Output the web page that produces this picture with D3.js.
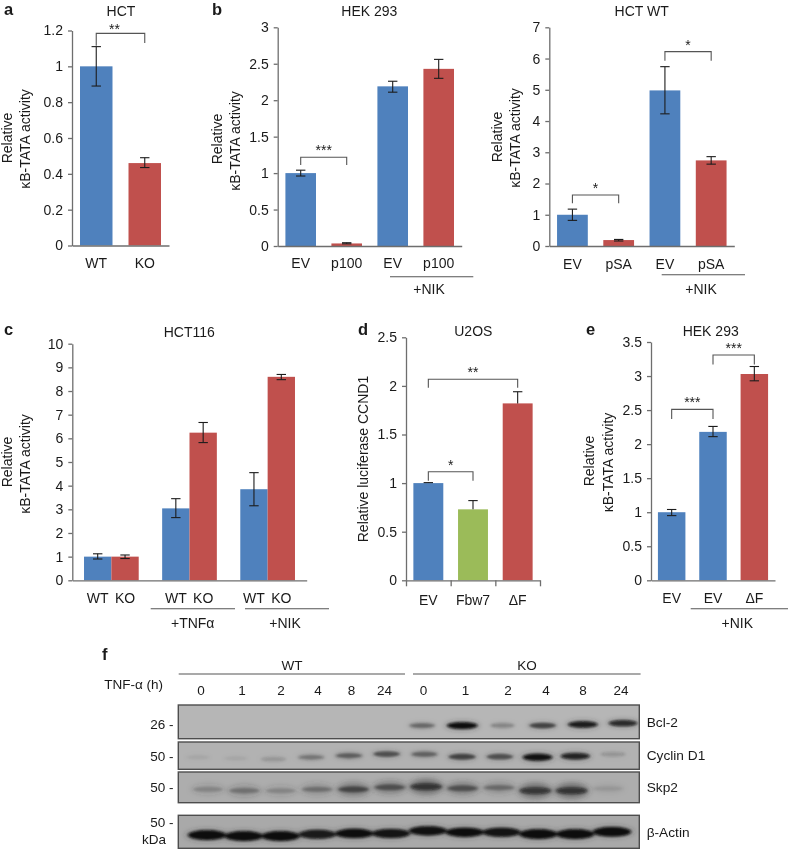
<!DOCTYPE html>
<html><head><meta charset="utf-8">
<style>
html,body{margin:0;padding:0;background:#fff;width:788px;height:849px;overflow:hidden}
svg{display:block;filter:blur(0.45px)}
text{font-family:"Liberation Sans",Arial,sans-serif;fill:#1a1a1a;font-size:14px}
.axis path,.axis line{stroke:#6e6e6e;stroke-width:1.3px;fill:none}
.axis text{font-family:"Liberation Sans",Arial,sans-serif;font-size:14px;fill:#1a1a1a}
</style>
<script src="https://d3js.org/d3.v7.min.js"></script>
</head><body>
<svg id="fig" width="788" height="849" xmlns="http://www.w3.org/2000/svg"></svg>
<script>
// ---------- data ----------
const aCats=["WT","KO"], aVals=[1,0.46], aLow=[0.89,0.435], aHigh=[1.11,0.49];
const aTicks=[0,0.2,0.4,0.6,0.8,1,1.2];
const bCats=["EV","p100","EV","p100"], bVals=[1,0.035,2.19,2.43], bLow=[0.96,0.03,2.11,2.30], bHigh=[1.04,0.045,2.26,2.56];
const bTicks=[0,0.5,1,1.5,2,2.5,3];
const b2Cats=["EV","pSA","EV","pSA"], b2Vals=[1,0.19,4.98,2.74], b2Low=[0.82,0.16,4.23,2.62], b2High=[1.18,0.21,5.74,2.86];
const b2Ticks=[0,1,2,3,4,5,6,7];
const cCats=["WT","KO","WT","KO","WT","KO"], cVals=[1,1,3.04,6.24,3.85,8.6], cLow=[0.9,0.92,2.65,5.82,3.15,8.48], cHigh=[1.12,1.07,3.45,6.67,4.55,8.7];
const cTicks=[0,1,2,3,4,5,6,7,8,9,10];
const dCats=["EV","Fbw7","\u0394F"], dVals=[1,0.73,1.82], dLow=[1,0.73,1.82], dHigh=[1.005,0.82,1.94];
const dTicks=[0,0.5,1,1.5,2,2.5];
const eCats=["EV","EV","\u0394F"], eVals=[1,2.18,3.03], eLow=[0.95,2.11,2.93], eHigh=[1.04,2.26,3.14];
const eTicks=[0,0.5,1,1.5,2,2.5,3,3.5];
// brackets: first bar, second bar, top value, left end value, right end value, stars
const aBrackets=[[0,1,1.184,1.115,1.13,"**"]];
const bBrackets=[[0,1,1.217,1.11,1.11,"***"]];
const b2Brackets=[[0,1,1.63,1.37,1.37,"*"],[2,3,6.22,5.93,5.93,"*"]];
const dBrackets=[[0,1,1.117,1.025,1.025,"*"],[0,2,2.068,1.98,1.98,"**"]];
const eBrackets=[[0,1,2.51,2.37,2.37,"***"],[1,2,3.31,3.17,3.17,"***"]];
// western blot
const laneLabels=["0","1","2","4","8","24","0","1","2","4","8","24"];
const bcl2Int=[0,0,0,0,0,0,0.36,0.95,0.22,0.55,0.85,0.75];
const bcl2Mig=[.6,.6,.6,.6,.6,.6,.61,.61,.61,.61,.58,.54];
const cycInt=[0.05,0.05,0.13,0.28,0.4,0.48,0.38,0.55,0.48,0.92,0.8,0.14];
const cycMig=[.56,.6,.63,.56,.5,.44,.45,.54,.54,.56,.52,.45];
const skpInt=[0.16,0.24,0.16,0.26,0.46,0.4,0.62,0.4,0.28,0.6,0.62,0.08];
const skpMig=[.565,.61,.61,.565,.565,.5,.48,.53,.51,.61,.61,.54];
const actInt=[1,1,1,0.85,0.95,0.9,0.92,0.95,0.9,1,1,1];
const actMig=[.6,.63,.63,.575,.55,.55,.47,.515,.515,.57,.57,.5];

// ---------- helpers ----------
const BLUE="#4f81bd",RED="#c0504d",GREEN="#9bbb59";
const svg=d3.select("#fig");
const defs=svg.append("defs");
defs.append("filter").attr("id","bandBlur").attr("x","-30%").attr("y","-100%").attr("width","160%").attr("height","300%")
  .append("feGaussianBlur").attr("stdDeviation","1.6 1.1");
defs.append("filter").attr("id","smearBlur").attr("x","-30%").attr("y","-100%").attr("width","160%").attr("height","300%")
  .append("feGaussianBlur").attr("stdDeviation","3 2.5");

function txt(x,y,s,o={}){
  const t=svg.append("text").attr("x",x).attr("y",y).attr("text-anchor",o.anchor||"middle").text(s);
  if(o.central!==false)t.attr("dominant-baseline","central");
  if(o.size)t.style("font-size",o.size+"px");
  if(o.bold)t.style("font-weight","bold");
  if(o.rot)t.attr("transform",`rotate(-90 ${x} ${y})`);
  return t;
}
function rule(x1,x2,y){svg.append("line").attr("x1",x1).attr("x2",x2).attr("y1",y).attr("y2",y).attr("stroke","#555").attr("stroke-width",1.1);}

function panel(L,cats,vals,low,high,ticks,colors,brackets){
  const y=d3.scaleLinear().domain([0,ticks[ticks.length-1]]).range([L.y0,L.y1]);
  const band=d3.scaleBand().domain(d3.range(cats.length)).range([L.x0,L.x1]).paddingInner(L.pad).paddingOuter(L.pad/2);
  const xPos=L.xPos||(i=>band(i));
  const bw=L.bw||band.bandwidth();
  const g=svg.append("g");
  g.selectAll("rect").data(vals).join("rect")
    .attr("x",(d,i)=>xPos(i)).attr("width",bw).attr("y",d=>y(d)).attr("height",d=>y(0)-y(d))
    .attr("fill",(d,i)=>colors[i]);
  svg.append("g").attr("class","axis").attr("transform",`translate(${L.x0},0)`)
    .call(d3.axisLeft(y).tickValues(ticks).tickFormat(d3.format("~g")).tickSize(4).tickSizeOuter(0).tickPadding(5));
  const xAxisScale=d3.scaleLinear().domain([0,cats.length]).range([L.x0,L.x1]);
  svg.append("g").attr("class","axis").attr("transform",`translate(0,${L.y0})`)
    .call(d3.axisBottom(xAxisScale).tickValues(L.xTicks?d3.range(cats.length+1):[]).tickFormat("").tickSize(L.xTicks?6:0).tickSizeOuter(0));
  svg.append("g").selectAll("text").data(cats).join("text")
    .attr("x",(d,i)=>xPos(i)+bw/2).attr("y",L.labelY).attr("text-anchor","middle").attr("dominant-baseline","central").text(d=>d);
  const e=svg.append("g").attr("stroke","#1c1c1c").attr("stroke-width",1.1);
  vals.forEach((v,i)=>{
    const cx=xPos(i)+bw/2, c=L.cap||4.7;
    e.append("line").attr("x1",cx).attr("x2",cx).attr("y1",y(low[i])).attr("y2",y(high[i]));
    e.append("line").attr("x1",cx-c).attr("x2",cx+c).attr("y1",y(high[i])).attr("y2",y(high[i]));
    if(low[i]<v) e.append("line").attr("x1",cx-c).attr("x2",cx+c).attr("y1",y(low[i])).attr("y2",y(low[i]));
  });
  (brackets||[]).forEach(b=>{
    const xa=xPos(b[0])+bw/2, xb=xPos(b[1])+bw/2;
    svg.append("path").attr("fill","none").attr("stroke","#555").attr("stroke-width",1.1)
      .attr("d",d3.line()([[xa,y(b[3])],[xa,y(b[2])],[xb,y(b[2])],[xb,y(b[4])]]));
    svg.append("text").attr("x",(xa+xb)/2+(L.starDx||0)).attr("y",y(b[2])-2+(L.starDy||0)).attr("text-anchor","middle").style("font-size","14px").text(b[5]);
  });
  txt(L.titleX,L.titleY,L.title);
  if(L.yl2){ txt(L.ylx1,L.yly1,"Relative",{rot:true}); txt(L.ylx2,L.yly2,"\u03baB-TATA activity",{rot:true}); }
  else txt(L.ylx1,L.yly1,L.yl1,{rot:true});
}

// ---------- panels ----------
const letter={anchor:"start",central:false,bold:true,size:16.5};
txt(4,15,"a",letter);
txt(212,15,"b",letter);
txt(4,335,"c",letter);
txt(358,335,"d",letter);
txt(586,335,"e",letter);
txt(102,660,"f",letter);

panel({x0:72,x1:169,y0:245.5,y1:30.5,pad:0.33,labelY:263,title:"HCT",titleX:121,titleY:10.5,yl2:true,ylx1:7,yly1:138,ylx2:25,yly2:139,starDx:-6,starDy:3},
  aCats,aVals,aLow,aHigh,aTicks,[BLUE,RED],aBrackets);

panel({x0:277.7,x1:461.7,y0:246,y1:27.3,pad:0.335,labelY:263,title:"HEK 293",titleX:369.3,titleY:10.5,yl2:true,ylx1:217,yly1:139,ylx2:235,yly2:141},
  bCats,bVals,bLow,bHigh,bTicks,[BLUE,RED,BLUE,RED],bBrackets);
rule(390,473.3,276.7); txt(429,289,"+NIK");

panel({x0:549.3,x1:734.3,y0:246,y1:27.3,pad:0.335,labelY:264,title:"HCT WT",titleX:641.7,titleY:10.5,yl2:true,ylx1:497,yly1:137,ylx2:515,yly2:138},
  b2Cats,b2Vals,b2Low,b2High,b2Ticks,[BLUE,RED,BLUE,RED],b2Brackets);
rule(661.7,745,274.7); txt(701,289,"+NIK");

const cGroup=d3.scaleBand().domain([0,1,2]).range([72.3,306.7]).paddingInner(0.3).paddingOuter(0.15);
const cSub=d3.scaleBand().domain([0,1]).range([0,cGroup.bandwidth()]);
panel({x0:72.3,x1:306.7,y0:580.3,y1:343.7,pad:0.3,labelY:597.7,title:"HCT116",titleX:189.3,titleY:331.7,yl2:true,ylx1:7,yly1:462,ylx2:25,yly2:464,
  xPos:i=>cGroup(Math.floor(i/2))+cSub(i%2),bw:cSub.bandwidth()},
  cCats,cVals,cLow,cHigh,cTicks,[BLUE,RED,BLUE,RED,BLUE,RED],null);
rule(150.7,235,608.7); rule(245,329,608.7);
txt(192.7,622.7,"+TNF\u03b1"); txt(285,622.7,"+NIK");

panel({x0:406,x1:540,y0:580.3,y1:337.3,pad:0.33,labelY:600,title:"U2OS",titleX:473.3,titleY:331,yl1:"Relative luciferase CCND1",ylx1:363,yly1:459,xTicks:true},
  dCats,dVals,dLow,dHigh,dTicks,[BLUE,GREEN,RED],dBrackets);

panel({x0:651,x1:775,y0:580.3,y1:342,pad:0.335,labelY:597.7,title:"HEK 293",titleX:710.7,titleY:331.3,yl2:true,ylx1:589,yly1:461,ylx2:608,yly2:462.5},
  eCats,eVals,eLow,eHigh,eTicks,[BLUE,BLUE,RED],eBrackets);
rule(690.7,788,608.7); txt(737.3,622.7,"+NIK");

// ---------- western blot ----------
const laneX=[201,242,281,318,351.5,384.5,423.5,465.5,508,546,583,621];
svg.append("g").selectAll("text").data(laneLabels).join("text")
  .attr("x",(d,i)=>laneX[i]).attr("y",690.7).attr("text-anchor","middle").attr("dominant-baseline","central").style("font-size","13.5px").text(d=>d);
rule(178.7,405,674); rule(413,640.6,674);
txt(292,665.7,"WT",{size:13.5}); txt(527,665.7,"KO",{size:13.5});
txt(133.6,684,"TNF-\u03b1 (h)",{size:13.5});

function blot(B,intensity,mig){
  const x=d3.scalePoint().domain(d3.range(12)).range([B.xa,B.xb]);
  const y=d3.scaleLinear().domain([0,1]).range([B.y0,B.y1]);
  const clip="clip"+B.name.replace(/\W/g,"");
  defs.append("clipPath").attr("id",clip).append("rect").attr("x",178.3).attr("y",B.y0).attr("width",461).attr("height",B.y1-B.y0);
  svg.append("rect").attr("x",178.3).attr("y",B.y0).attr("width",461).attr("height",B.y1-B.y0).attr("fill",B.bg);
  const g=svg.append("g").attr("clip-path",`url(#${clip})`);
  const w=d3.scaleLinear().domain([0,1]).range([B.wmin,B.wmax]);
  const h=d3.scaleLinear().domain([0,1]).range([2.2,B.hmax]);
  g.append("g").attr("filter","url(#smearBlur)").selectAll("ellipse").data(intensity).join("ellipse")
    .attr("cx",(d,i)=>x(i)).attr("cy",(d,i)=>y(mig[i])).attr("rx",d=>w(d)*1.1).attr("ry",d=>h(d)*B.smear)
    .attr("fill","#333").attr("opacity",d=>d*B.smearOp);
  g.append("g").attr("filter","url(#bandBlur)").selectAll("ellipse").data(intensity).join("ellipse")
    .attr("cx",(d,i)=>x(i)).attr("cy",(d,i)=>y(mig[i])).attr("rx",d=>w(d)).attr("ry",d=>h(d))
    .attr("fill","#0b0b0b").attr("opacity",d=>Math.min(1,d*1.05));
  svg.append("rect").attr("x",178.3).attr("y",B.y0).attr("width",461).attr("height",B.y1-B.y0)
    .attr("fill","none").attr("stroke","#4d4d4d").attr("stroke-width",1.4);
  txt(646.7,B.labY,B.name,{anchor:"start",size:13.7});
  txt(173.6,B.mwY,B.mw+" -",{anchor:"end",size:13.5});
}
blot({name:"Bcl-2",mw:"26",xa:181,xb:623,y0:705,y1:738.7,bg:"#b6b6b6",wmin:11,wmax:15.5,hmax:3.4,smear:1.3,smearOp:0.4,labY:722.5,mwY:724.3},bcl2Int,bcl2Mig);
blot({name:"Cyclin D1",mw:"50",xa:198,xb:613,y0:742,y1:769.3,bg:"#b2b2b2",wmin:12,wmax:15,hmax:3.6,smear:1.4,smearOp:0.4,labY:755.5,mwY:756},cycInt,cycMig);
blot({name:"Skp2",mw:"50",xa:208,xb:608,y0:772,y1:802.7,bg:"#adadad",wmin:15,wmax:16,hmax:4.2,smear:2.4,smearOp:0.75,labY:787,mwY:787},skpInt,skpMig);
blot({name:"\u03b2-Actin",mw:"50",xa:207,xb:612,y0:815.3,y1:848.3,bg:"#a9a9a9",wmin:17,wmax:19,hmax:4.8,smear:1.2,smearOp:0.4,labY:832.5,mwY:822.7},actInt,actMig);
txt(166,839,"kDa",{anchor:"end",size:13.5});
</script>
</body></html>
